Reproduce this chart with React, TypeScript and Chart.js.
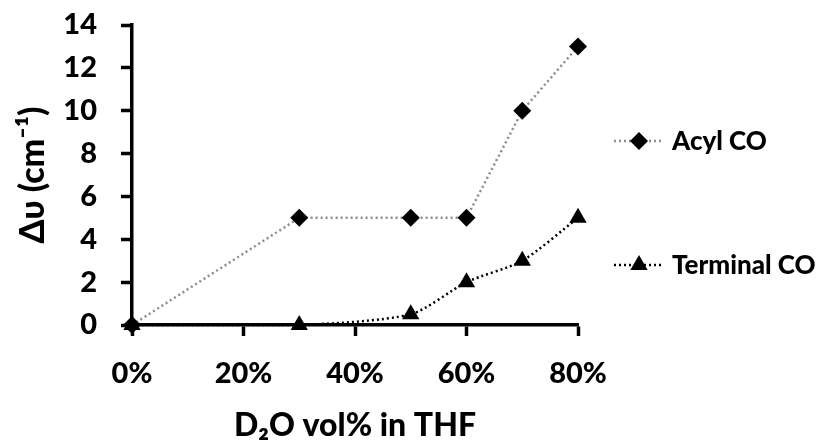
import React, { useEffect, useRef } from "react";
import { Chart, registerables } from "chart.js";

Chart.register(...registerables);

const xValues = [0, 30, 50, 60, 70, 80];
const acylCO = [0, 5, 5, 5, 10, 13];
const terminalCO = [0, 0, 0.5, 2, 3, 5];
const seriesNames = ["Acyl CO", "Terminal CO"];
const xTitle = "D\u2082O vol% in THF";
const yTitle = "\u0394\u03C5 (cm\u207B\u00B9)";

const FONT = "Lato, 'Open Sans', 'Noto Sans', 'DejaVu Sans', sans-serif";
const WEIGHT = "900";

function drawMarker(ctx: CanvasRenderingContext2D, style: string, r: number, x: number, y: number) {
  ctx.beginPath();
  if (style === "rectRot") {
    ctx.moveTo(x, y - r);
    ctx.lineTo(x + r, y);
    ctx.lineTo(x, y + r);
    ctx.lineTo(x - r, y);
  } else {
    ctx.moveTo(x, y - r);
    ctx.lineTo(x + r * 0.866, y + r * 0.5);
    ctx.lineTo(x - r * 0.866, y + r * 0.5);
  }
  ctx.closePath();
  ctx.fill();
}

const legendPlugin = {
  id: "sideLegend",
  afterDraw(chart: any) {
    const ctx = chart.ctx;
    const items = [
      { ds: chart.data.datasets[0], y: 141 },
      { ds: chart.data.datasets[1], y: 265 },
    ];
    ctx.save();
    for (const it of items) {
      const ds = it.ds;
      ctx.strokeStyle = ds.borderColor;
      ctx.lineWidth = ds.borderWidth;
      ctx.setLineDash(ds.borderDash);
      ctx.beginPath();
      ctx.moveTo(614, it.y);
      ctx.lineTo(664, it.y);
      ctx.stroke();
      ctx.setLineDash([]);
      ctx.fillStyle = "#000";
      drawMarker(ctx, ds.pointStyle, ds.pointRadius, 639, it.y);
      ctx.fillStyle = "#000";
      ctx.font = `${WEIGHT} 26px ${FONT}`;
      ctx.textBaseline = "middle";
      ctx.textAlign = "left";
      ctx.fillText(ds.label, 672, it.y + 1);
    }
    ctx.restore();
  },
};

export default function App() {
  const ref = useRef<HTMLCanvasElement | null>(null);
  useEffect(() => {
    if (!ref.current) return;
    const chart = new Chart(ref.current, {
      type: "line",
      data: {
        datasets: [
          {
            label: seriesNames[0],
            data: xValues.map((x, i) => ({ x, y: acylCO[i] })),
            borderColor: "#8c8c8c",
            borderWidth: 2.5,
            borderDash: [2, 3],
            pointStyle: "rectRot",
            pointRadius: 9,
            pointBackgroundColor: "#000",
            pointBorderColor: "#000",
            pointBorderWidth: 0,
            fill: false,
            tension: 0,
            clip: false,
          },
          {
            label: seriesNames[1],
            data: xValues.map((x, i) => ({ x, y: terminalCO[i] })),
            borderColor: "#000",
            borderWidth: 2.5,
            borderDash: [2, 3],
            pointStyle: "triangle",
            pointRadius: 10,
            pointBackgroundColor: "#000",
            pointBorderColor: "#000",
            pointBorderWidth: 0,
            fill: false,
            tension: 0.25,
            clip: false,
          },
        ],
      },
      options: {
        responsive: false,
        animation: false,
        layout: { padding: { left: 0, top: 25, right: 241, bottom: 0 } },
        plugins: { legend: { display: false }, tooltip: { enabled: false } },
        scales: {
          x: {
            type: "linear",
            min: 0,
            max: 80,
            afterFit(scale: any) {
              scale.height = 120;
              scale.paddingLeft = 0;
              scale.paddingRight = 0;
            },
            border: { display: true, color: "#000", width: 3.5 },
            grid: {
              display: true,
              drawOnChartArea: false,
              drawTicks: true,
              tickLength: 11,
              tickWidth: 3.5,
              color: "#000",
            },
            ticks: {
              stepSize: 20,
              padding: 20,
              color: "#000",
              font: { family: FONT, size: 29, weight: WEIGHT },
              callback: (v: any) => `${v}%`,
              maxRotation: 0,
            },
            title: {
              display: true,
              text: xTitle,
              color: "#000",
              font: { family: FONT, size: 32, weight: WEIGHT },
              padding: { top: 0, bottom: 0 },
            },
          },
          y: {
            type: "linear",
            min: 0,
            max: 14,
            afterFit(scale: any) {
              scale.width = 132;
              scale.paddingTop = 0;
              scale.paddingBottom = 0;
            },
            border: { display: true, color: "#000", width: 3.5 },
            grid: {
              display: true,
              drawOnChartArea: false,
              drawTicks: true,
              tickLength: 11,
              tickWidth: 3.5,
              color: "#000",
            },
            ticks: {
              stepSize: 2,
              padding: 24,
              color: "#000",
              font: { family: FONT, size: 29, weight: WEIGHT },
            },
            title: {
              display: true,
              text: yTitle,
              color: "#000",
              font: { family: FONT, size: 34, weight: WEIGHT },
              padding: { top: 13, bottom: 0 },
            },
          },
        },
      } as any,
      plugins: [legendPlugin],
    });
    return () => chart.destroy();
  }, []);
  return (
    <div style={{ position: "absolute", left: 0, top: 0, width: 819, height: 445, background: "#fff" }}>
      <canvas ref={ref} width={819} height={445} />
    </div>
  );
}
